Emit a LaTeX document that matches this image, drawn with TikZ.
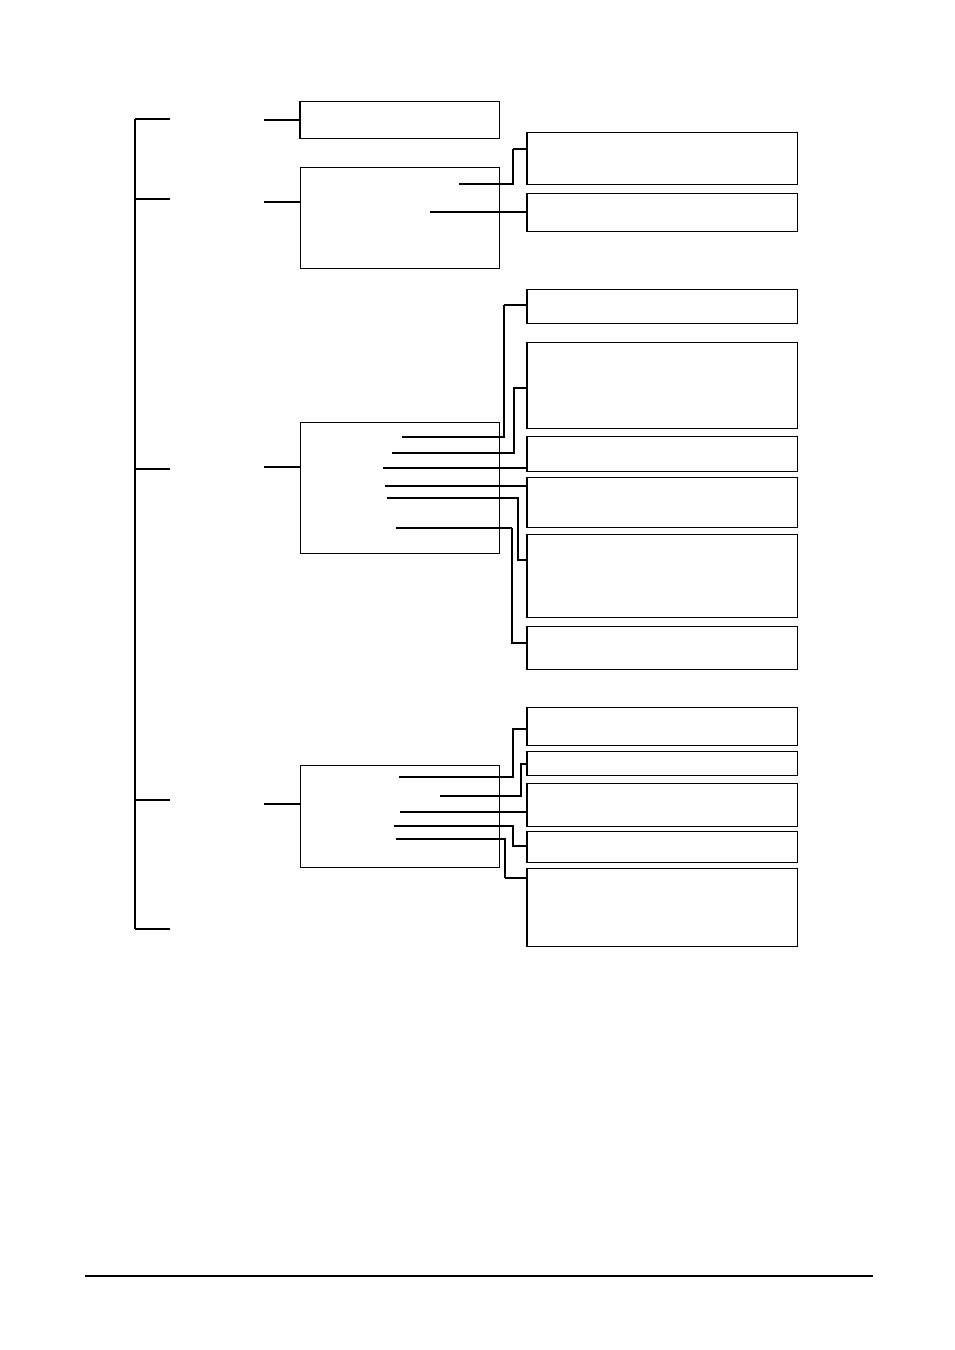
\documentclass[tikz,border=0pt]{standalone}
\begin{document}
\begin{tikzpicture}[x=1pt,y=-1pt,
  box/.style={draw,rectangle,anchor=north west,inner sep=0pt,line width=1.1pt},
  conn/.style={line width=1.1pt},
  thickconn/.style={line width=2pt},
  edge/.style={line width=1.8pt}]
\useasboundingbox (0,0) rectangle (954,1350);
% left column boxes
\node[box,minimum width=199pt,minimum height=37pt] (A) at (300,101) {};
\node[box,minimum width=199pt,minimum height=101pt] (B) at (300,167) {};
\node[box,minimum width=199pt,minimum height=131pt] (C) at (300,422) {};
\node[box,minimum width=199pt,minimum height=102pt] (D) at (300,765) {};
% right column boxes
\foreach \n/\t/\b in {R1/132/184,R2/193/231,R3/289/323,R4/342/428,R5/436/471,R6/477/527,R7/534/617,R8/626/669,R9/707/745,R10/751/775,R11/783/826,R12/831/862,R13/868/946}{
  \pgfmathsetmacro{\h}{\b-\t}
  \node[box,minimum width=270pt,minimum height=\h pt] (\n) at (527,\t) {};
  \draw[edge] (\n.north west) -- (\n.south west);
}
\draw[edge] (A.north west) -- (A.south west);
% main bracket
\coordinate (top) at (135,119);
\coordinate (bot) at (135,929);
\draw[line width=2pt] (top) -- (bot);
\foreach \y/\nm in {119/t1,199/t2,469/t3,800/t4,929/t5}{
  \coordinate (\nm) at (170,\y);
  \draw[conn] (135,\y) -- (\nm);
}
% right ticks into left boxes
\coordinate (a0) at (264,120);
\coordinate (b0) at (264,202);
\coordinate (c0) at (264,467);
\coordinate (d0) at (264,804);
\draw[conn] (a0) -- (A.west |- a0);
\draw[conn] (b0) -- (B.west |- b0);
\draw[thickconn] (c0) -- (C.west |- c0);
\draw[conn] (d0) -- (D.west |- d0);
% B connectors
\coordinate (b1) at (459,184);
\coordinate (b2) at (430,212);
\draw[conn] (b1) -- (513,184) -- (513,149);
\draw[thickconn] (513,149) -- (R1.west |- 0,149);
\draw[conn] (b2) -- (R2.west |- b2);
% C connectors
\coordinate (c1) at (402,437);
\coordinate (c2) at (392,453);
\coordinate (c3) at (383,468);
\coordinate (c4) at (385,486);
\coordinate (c5) at (387,498);
\coordinate (c6) at (396,528);
\draw[conn] (c1) -- (504,437) -- (504,305);
\draw[thickconn] (504,305) -- (R3.west |- 0,305);
\draw[conn] (c2) -- (514,453) -- (514,388) -- (R4.west |- 0,388);
\draw[conn] (c3) -- (R5.west |- c3);
\draw[thickconn] (c4) -- (R6.west |- c4);
\draw[conn] (c5) -- (518,498) -- (518,560) -- (R7.west |- 0,560);
\draw[thickconn] (c6) -- (512,528);
\draw[conn] (512,528) -- (512,643) -- (R8.west |- 0,643);
% D connectors
\coordinate (d1) at (399,777);
\coordinate (d2) at (440,796);
\coordinate (d3) at (400,812);
\coordinate (d4) at (394,826);
\coordinate (d5) at (396,839);
\draw[conn] (d1) -- (513,777) -- (513,729) -- (R9.west |- 0,729);
\draw[conn] (d2) -- (521,796) -- (521,764) -- (R10.west |- 0,764);
\draw[conn] (d3) -- (R11.west |- d3);
\draw[conn] (d4) -- (513,826) -- (513,846) -- (R12.west |- 0,846);
\draw[conn] (d5) -- (505,839) -- (505,878);
\draw[thickconn] (505,878) -- (R13.west |- 0,878);
% footer rule
\coordinate (f1) at (85,1276);
\coordinate (f2) at (873,1276);
\draw[conn] (f1) -- (f2);
\end{tikzpicture}
\end{document}
